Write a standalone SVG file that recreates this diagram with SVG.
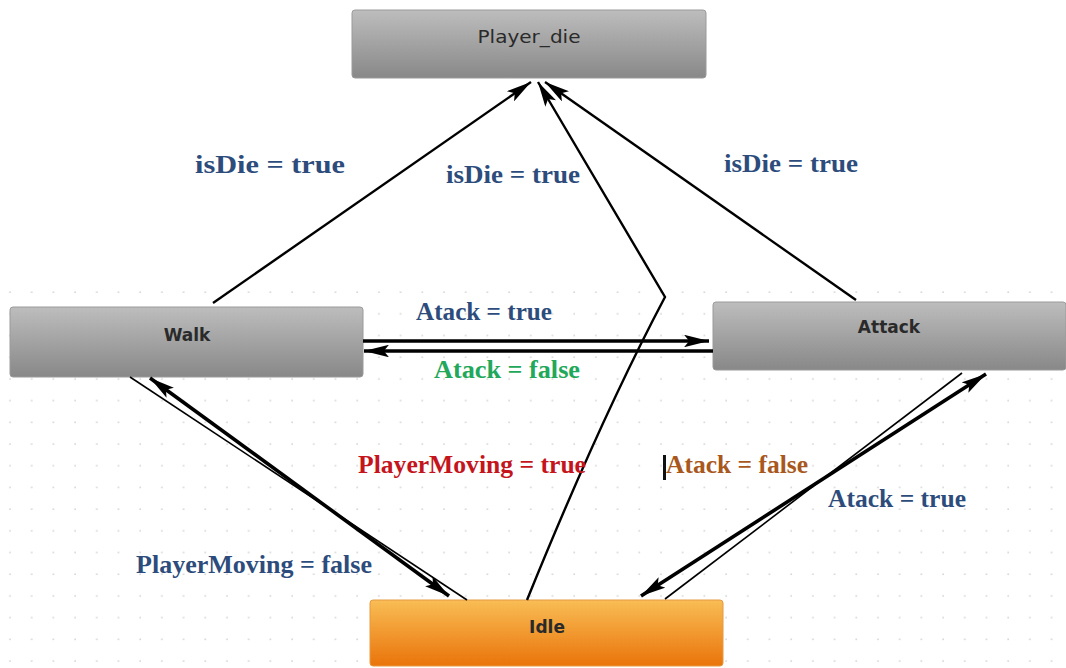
<svg xmlns="http://www.w3.org/2000/svg" width="1066" height="668" viewBox="0 0 1066 668">
  <defs>
    <linearGradient id="gray" x1="0" y1="0" x2="0" y2="1">
      <stop offset="0" stop-color="#bdbdbd"/>
      <stop offset="1" stop-color="#888888"/>
    </linearGradient>
    <linearGradient id="orange" x1="0" y1="0" x2="0" y2="1">
      <stop offset="0" stop-color="#f9bd55"/>
      <stop offset="1" stop-color="#e9740a"/>
    </linearGradient>
    <pattern id="dots" x="0" y="0" width="21.7" height="21.7" patternUnits="userSpaceOnUse">
      <circle cx="10" cy="10" r="0.9" fill="#d4d4d4"/>
    </pattern>
    <marker id="head" viewBox="0 0 24 12" refX="24" refY="6" markerWidth="25" markerHeight="12.5" markerUnits="userSpaceOnUse" orient="auto-start-reverse">
      <path d="M0,0 L24,6 L0,12 L5,6 Z" fill="#000"/>
    </marker>
  </defs>
  <style>
    .node-gray { fill: url(#gray); stroke: #9a9a9a; stroke-width: 1; }
    .node-idle { fill: url(#orange); stroke: #e59a40; stroke-width: 1; }
    .node-text { font-family: "DejaVu Sans", "Noto Sans", sans-serif; font-size: 17px; text-anchor: middle; fill: #2a2a2a; }
    .lbl { font-family: "Liberation Serif", "Times New Roman", serif; font-weight: bold; font-size: 25px; }
    .blue { fill: #2d4c7c; }
    .green { fill: #22a85a; }
    .red { fill: #c4151d; }
    .brown { fill: #a8581c; }
    .thin { stroke: #000; stroke-width: 1.6; fill: none; }
    .mid { stroke: #000; stroke-width: 2.4; fill: none; }
    .thick { stroke: #000; stroke-width: 3.6; fill: none; }
  </style>

  <rect width="1066" height="668" fill="#ffffff"/>
  <!-- faint dotted grid in the lower area -->
  <rect x="0" y="280" width="1066" height="388" fill="url(#dots)"/>

  <!-- states -->
  <g id="player_die">
    <rect class="node-gray" x="352" y="10" width="354" height="68" rx="3"/>
    <text class="node-text" x="529" y="43" font-size="19" textLength="103" lengthAdjust="spacingAndGlyphs">Player_die</text>
  </g>
  <g id="walk">
    <rect class="node-gray" x="10" y="307" width="353" height="70" rx="3"/>
    <text class="node-text" x="187" y="341" font-weight="bold">Walk</text>
  </g>
  <g id="attack">
    <rect class="node-gray" x="713" y="302" width="353" height="68" rx="3"/>
    <text class="node-text" x="889" y="333" font-weight="bold">Attack</text>
  </g>
  <g id="idle">
    <rect class="node-idle" x="370" y="600" width="353" height="66" rx="3"/>
    <text class="node-text" x="547" y="633" font-weight="bold" fill="#3a2410">Idle</text>
  </g>

  <!-- transitions -->
  <g id="connectors">
    <!-- to Player_die -->
    <line class="mid" x1="213" y1="303" x2="531" y2="82" marker-end="url(#head)"/>
    <line class="mid" x1="856" y1="300" x2="545" y2="82" marker-end="url(#head)"/>
    <path class="mid" d="M527,600 Q600,420 665,297 L538,82" marker-end="url(#head)"/>
    <!-- Walk <-> Attack -->
    <line class="thick" x1="363" y1="341" x2="709" y2="341" marker-end="url(#head)"/>
    <line class="thick" x1="713" y1="351" x2="364" y2="351" marker-end="url(#head)"/>
    <!-- Walk <-> Idle -->
    <line class="thin" x1="130" y1="377" x2="467" y2="600"/>
    <line class="thick" x1="150" y1="378" x2="449" y2="596" marker-start="url(#head)" marker-end="url(#head)"/>
    <!-- Attack <-> Idle -->
    <line class="thin" x1="962" y1="373" x2="665" y2="599"/>
    <line class="thick" x1="986" y1="374" x2="641" y2="596" marker-start="url(#head)" marker-end="url(#head)"/>
  </g>

  <!-- transition labels -->
  <g id="labels">
    <text class="lbl blue" x="195" y="173" textLength="150" lengthAdjust="spacingAndGlyphs">isDie = true</text>
    <text class="lbl blue" x="446" y="183" textLength="134" lengthAdjust="spacingAndGlyphs">isDie = true</text>
    <text class="lbl blue" x="724" y="172" textLength="134" lengthAdjust="spacingAndGlyphs">isDie = true</text>
    <text class="lbl blue" x="416" y="320" font-size="23" textLength="136" lengthAdjust="spacingAndGlyphs">Atack = true</text>
    <text class="lbl green" x="434" y="378" font-size="23" textLength="146" lengthAdjust="spacingAndGlyphs">Atack = false</text>
    <text class="lbl red" x="358" y="473" font-size="23" textLength="228" lengthAdjust="spacingAndGlyphs">PlayerMoving = true</text>
    <rect x="663" y="455" width="3" height="25" fill="#111"/>
    <text class="lbl brown" x="666" y="473" font-size="23" textLength="142" lengthAdjust="spacingAndGlyphs">Atack = false</text>
    <text class="lbl blue" x="828" y="507" font-size="23" textLength="138" lengthAdjust="spacingAndGlyphs">Atack = true</text>
    <text class="lbl blue" x="136" y="573" font-size="23" textLength="236" lengthAdjust="spacingAndGlyphs">PlayerMoving = false</text>
  </g>
</svg>
